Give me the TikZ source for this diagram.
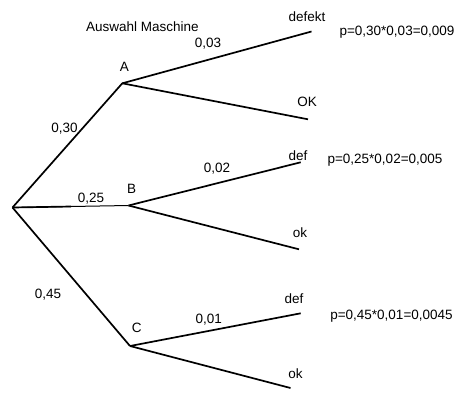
\documentclass[tikz,border=0pt]{standalone}
\usepackage{fontspec}
\setmainfont{Liberation Sans}
\begin{document}
\begin{tikzpicture}[x=1pt,y=-1pt,
  edge/.style={line width=1.7pt},
  thinedge/.style={line width=1pt},
  lbl/.style={anchor=base,inner sep=0pt,font=\fontsize{13.5}{15}\selectfont}]
\useasboundingbox (0,0) rectangle (468,400);
% tree points
\coordinate (R) at (12.5,207.5);
\coordinate (A) at (122.3,83.3);
\coordinate (B) at (128.5,205.5);
\coordinate (M) at (71,206.5);
\coordinate (C) at (130,346);
\coordinate (A1) at (311.5,31.5);
\coordinate (A2) at (308,119.3);
\coordinate (B1) at (300.7,162.3);
\coordinate (B2) at (299,249.3);
\coordinate (C1) at (300.7,313.3);
\coordinate (C2) at (290.5,388);
% connectors
\draw[edge] (R) -- (A);
\draw[thinedge] (R) -- (B);
\draw[edge] (R) -- (M);
\draw[edge] (R) -- (C);
\draw[edge] (A) -- (A1);
\draw[edge] (A) -- (A2);
\draw[edge] (B) -- (B1);
\draw[edge] (B) -- (B2);
\draw[edge] (C) -- (C1);
\draw[edge] (C) -- (C2);
% labels
\node[lbl] (title) at (142.5,31.3) {Auswahl Maschine};
\node[lbl] (lA) at (124.3,71.2) {A};
\node[lbl] (lB) at (131.7,193.8) {B};
\node[lbl] (lC) at (136.7,332.8) {C};
\node[lbl] (p30) at (64.5,132.5) {0,30};
\node[lbl] (p25) at (91,202.5) {0,25};
\node[lbl] (p45) at (48,298.5) {0,45};
\node[lbl] (p03) at (208,47.5) {0,03};
\node[lbl] (p02) at (217,172.5) {0,02};
\node[lbl] (p01) at (208.7,323.5) {0,01};
\node[lbl] (t1) at (307,21.7) {defekt};
\node[lbl] (t2) at (307,106) {OK};
\node[lbl] (t3) at (298,160) {def};
\node[lbl] (t4) at (300,237) {ok};
\node[lbl] (t5) at (294,303) {def};
\node[lbl] (t6) at (295.5,378) {ok};
\node[lbl] (r1) at (397,35.5) {p=0,30*0,03=0,009};
\node[lbl] (r2) at (385,163.5) {p=0,25*0,02=0,005};
\node[lbl] (r3) at (391.5,319) {p=0,45*0,01=0,0045};
\end{tikzpicture}
\end{document}
